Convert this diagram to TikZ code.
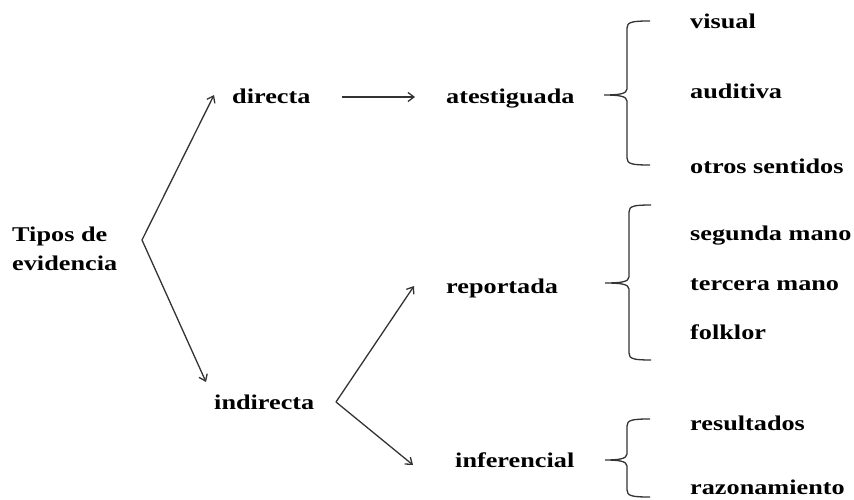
\documentclass[tikz,border=0pt]{standalone}
\usepackage{fontspec}
\setmainfont[FakeStretch=1.25]{Liberation Serif}
\usetikzlibrary{arrows.meta}
\newcommand\drawbrace[6]{% tip x, vertical x, end x, top y, mid y, bottom y
  \draw[bracestyle] (#3,#4) .. controls (#2+5,#4) and (#2,#4+1) .. (#2,#4+7)
    -- (#2,#5-6) .. controls (#2,#5-1) and (#2-9,#5) .. (#1,#5)
    .. controls (#2-9,#5) and (#2,#5+1) .. (#2,#5+6)
    -- (#2,#6-7) .. controls (#2,#6-1) and (#2+5,#6) .. (#3,#6);}
\begin{document}
\begin{tikzpicture}[x=1pt,y=-1pt,
  lbl/.style={font=\fontsize{21}{29}\selectfont\bfseries, anchor=mid west, inner sep=0pt, text=black, align=left},
  arr/.style={draw=black!80, line width=1.3pt, -{Straight Barb[length=6pt,width=9pt]}},
  bracestyle/.style={draw=black!80, line width=1.3pt}]
\useasboundingbox (0,0) rectangle (854,500);
\node[lbl, anchor=west] (tipos) at (12,249) {Tipos de\\evidencia};
\node[lbl] (directa) at (232,101) {directa};
\node[lbl] (indirecta) at (214,407) {indirecta};
\node[lbl] (atest) at (446,101) {atestiguada};
\node[lbl] (report) at (446,291) {reportada};
\node[lbl] (infer) at (455,465) {inferencial};
\node[lbl] (visual) at (690,26) {visual};
\node[lbl] (auditiva) at (690,96) {auditiva};
\node[lbl] (otros) at (690,171) {otros sentidos};
\node[lbl] (segunda) at (690,238) {segunda mano};
\node[lbl] (tercera) at (690,288) {tercera mano};
\node[lbl] (folklor) at (690,337) {folklor};
\node[lbl] (result) at (690,428) {resultados};
\node[lbl] (razon) at (690,492) {razonamiento};
\coordinate (v1) at (142,240);
\coordinate (v2) at (336,402);
\coordinate (d1) at (214,95);
\coordinate (d2) at (206,382);
\coordinate (a0) at (342,97);
\coordinate (a1) at (415,97);
\coordinate (r1) at (414,286);
\coordinate (i1) at (413,465);
\draw[arr] (v1) -- (d1);
\draw[arr] (v1) -- (d2);
\draw[arr] (a0) -- (a1);
\draw[arr] (v2) -- (r1);
\draw[arr] (v2) -- (i1);
\drawbrace{604}{627}{650}{21}{95}{165}
\drawbrace{605}{629}{651}{205}{283}{360}
\drawbrace{605}{627}{650}{419}{460}{497}
\end{tikzpicture}
\end{document}
